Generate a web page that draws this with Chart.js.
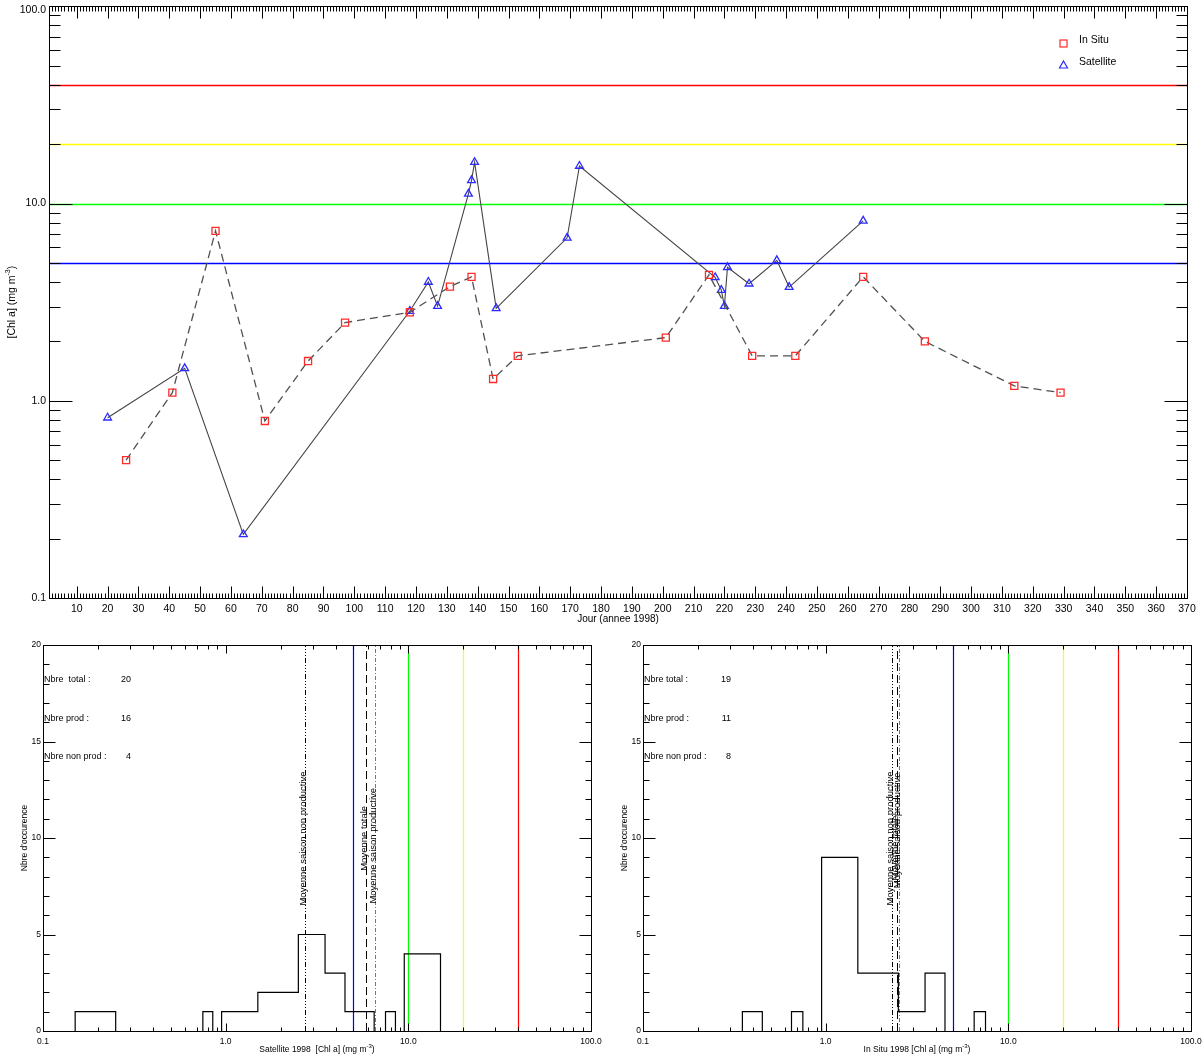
<!DOCTYPE html>
<html>
<head>
<meta charset="utf-8">
<title>Chl a 1998 - In Situ / Satellite</title>
<script src="https://cdn.jsdelivr.net/npm/chart.js@4.4.0/dist/chart.umd.min.js"></script>
<style>
  html, body { margin: 0; padding: 0; background: #fff; }
  #page { position: relative; width: 1203px; height: 1057px; overflow: hidden; background: #fff; }
  canvas { position: absolute; }
</style>
</head>
<body>
<div id="page">
  <canvas id="serie" width="1203" height="630" style="left:0;top:0"></canvas>
  <canvas id="histSat" width="612" height="427" style="left:0;top:630px"></canvas>
  <canvas id="histSitu" width="603" height="427" style="left:600px;top:630px"></canvas>
</div>
<script>
"use strict";

var FONT = '"Liberation Sans", Arial, sans-serif';

// serie temporelle (jour de l'annee, Chl a en mg m-3)
var satDays  = [20, 45, 64, 118, 124, 127, 137, 138, 139, 146, 169, 173, 217, 219, 220, 221, 228, 237, 241, 265];
var satChl   = [0.82, 1.46, 0.21, 2.85, 4.0, 3.02, 11.2, 13.1, 16.2, 2.94, 6.7, 15.5, 4.22, 3.64, 3.02, 4.75, 3.92, 5.15, 3.77, 8.17];
var situDays = [26, 41, 55, 71, 85, 97, 118, 131, 138, 145, 153, 201, 215, 229, 243, 265, 285, 314, 329];
var situChl  = [0.5, 1.1, 7.27, 0.79, 1.59, 2.49, 2.81, 3.79, 4.25, 1.29, 1.69, 2.09, 4.35, 1.69, 1.69, 4.25, 2.0, 1.19, 1.1];

// seuils de concentration
var seuils = [5, 10, 20, 40];
var seuilColors = ['#0000ff', '#00ff00', '#ffff00', '#ff0000'];

// graduations
var dayTicks = [10, 20, 30, 40, 50, 60, 70, 80, 90, 100, 110, 120, 130, 140, 150, 160, 170, 180, 190,
                200, 210, 220, 230, 240, 250, 260, 270, 280, 290, 300, 310, 320, 330, 340, 350, 360, 370];
var chlTicks = [0.1, 1, 10, 100];
var chlTickLabels = ['0.1', '1.0', '10.0', '100.0'];
var countTicks = [0, 5, 10, 15, 20];

// histogrammes : bornes des classes et effectifs
var satBinLo  = [0.15, 0.75, 0.95, 1.5, 2.5, 3.5, 4.5, 7.5, 9.5];
var satBinHi  = [0.25, 0.85, 1.5, 2.5, 3.5, 4.5, 6.5, 8.5, 15];
var satCounts = [1, 1, 1, 2, 5, 3, 1, 1, 4];
var situBinLo  = [0.35, 0.65, 0.95, 1.5, 2.5, 3.5, 6.5];
var situBinHi  = [0.45, 0.75, 1.5, 2.5, 3.5, 4.5, 7.5];
var situCounts = [1, 1, 9, 3, 1, 3, 1];

// moyennes : non productive, totale, productive
var meanLabels = ['Moyenne saison non productive', 'Moyenne totale', 'Moyenne saison productive'];
var satMeans  = [2.72, 5.86, 6.59];
var situMeans = [2.30, 2.46, 2.52];

var statLabelsSat  = ['Nbre  total :', 'Nbre prod :', 'Nbre non prod :'];
var statLabelsSitu = ['Nbre total :', 'Nbre prod :', 'Nbre non prod :'];
var satStats  = [20, 16, 4];
var situStats = [19, 11, 8];

function pairs(xs, ys) {
    return xs.map(function(x, i) { return {x: x, y: ys[i]}; });
}

// contour en escalier, coupe entre les classes non contigues
function histOutline(lo, hi, n) {
    var pts = [];
    for (var i = 0; i < lo.length; i++) {
        var joined = i > 0 && Math.abs(hi[i - 1] - lo[i]) < 1e-9;
        if (!joined) {
            if (i > 0) {
                pts.push({x: hi[i - 1], y: 0});
                pts.push({x: hi[i - 1], y: null});
            }
            pts.push({x: lo[i], y: 0});
        }
        pts.push({x: lo[i], y: n[i]});
        pts.push({x: hi[i], y: n[i]});
    }
    pts.push({x: hi[hi.length - 1], y: 0});
    return pts;
}

function logTicks(min, max) {
    var out = [];
    for (var e = Math.round(Math.log10(min)); e < Math.round(Math.log10(max)); e++) {
        for (var k = 1; k < 10; k++) {
            out.push({v: k * Math.pow(10, e), major: k === 1});
        }
    }
    out.push({v: max, major: true});
    return out;
}

function crisp(p) { return Math.round(p) + 0.5; }

function seg(ctx, x1, y1, x2, y2) {
    ctx.beginPath();
    ctx.moveTo(x1, y1);
    ctx.lineTo(x2, y2);
    ctx.stroke();
}

function txt(ctx, s, x, y, size, align, base) {
    ctx.font = size + 'px ' + FONT;
    ctx.textAlign = align || 'left';
    ctx.textBaseline = base || 'middle';
    ctx.fillText(s, x, y);
}

// texte avec exposant : parts = [[texte, exposant?], ...], centre en x
function supText(ctx, parts, x, y, size) {
    var small = Math.round(size * 0.7);
    var w = 0;
    parts.forEach(function(p) {
        ctx.font = (p[1] ? small : size) + 'px ' + FONT;
        w += ctx.measureText(p[0]).width;
    });
    var cx = x - w / 2;
    ctx.textAlign = 'left';
    ctx.textBaseline = 'middle';
    parts.forEach(function(p) {
        ctx.font = (p[1] ? small : size) + 'px ' + FONT;
        ctx.fillText(p[0], cx, p[1] ? y - size * 0.35 : y);
        cx += ctx.measureText(p[0]).width;
    });
}

var serieAxes = {
    id: 'serieAxes',
    beforeDatasetsDraw: function(chart) {
        var ctx = chart.ctx, a = chart.chartArea, y = chart.scales.y;
        ctx.save();
        ctx.lineWidth = 1.6;
        seuils.forEach(function(s, i) {
            ctx.strokeStyle = seuilColors[i];
            var py = crisp(y.getPixelForValue(s));
            seg(ctx, a.left, py, a.right, py);
        });
        ctx.restore();
    },
    afterDraw: function(chart) {
        var ctx = chart.ctx, a = chart.chartArea, x = chart.scales.x, y = chart.scales.y;
        var L = crisp(a.left), R = crisp(a.right), T = crisp(a.top), B = crisp(a.bottom);
        ctx.save();
        ctx.strokeStyle = '#000';
        ctx.fillStyle = '#000';
        ctx.lineWidth = 1;
        ctx.strokeRect(L, T, R - L, B - T);

        // un trait par jour, trait long tous les 10 jours
        for (var d = Math.ceil(x.min) + 1; d < x.max; d++) {
            var px = crisp(x.getPixelForValue(d));
            var len = d % 10 === 0 ? 12 : 5;
            seg(ctx, px, B, px, B - len);
            seg(ctx, px, T, px, T + len);
        }
        logTicks(0.1, 100).forEach(function(t) {
            var py = crisp(y.getPixelForValue(t.v));
            var len = t.major ? 23 : 11;
            seg(ctx, L, py, L + len, py);
            seg(ctx, R, py, R - len, py);
        });

        dayTicks.forEach(function(d) {
            txt(ctx, String(d), x.getPixelForValue(d), B + 11, 10.5, 'center');
        });
        chlTicks.forEach(function(v, i) {
            txt(ctx, chlTickLabels[i], a.left - 3, Math.max(y.getPixelForValue(v), 10), 10.5, 'right');
        });

        txt(ctx, 'Jour (annee 1998)', (a.left + a.right) / 2, B + 21, 10, 'center');

        ctx.save();
        ctx.translate(12, (a.top + a.bottom) / 2);
        ctx.rotate(-Math.PI / 2);
        supText(ctx, [['[Chl a] (mg m', false], ['-3', true], [')', false]], 0, 0, 10.5);
        ctx.restore();

        // legende
        ctx.lineWidth = 1.2;
        ctx.strokeStyle = '#ff2b2b';
        ctx.strokeRect(1060, 40, 7, 7);
        ctx.strokeStyle = '#2b2bff';
        ctx.beginPath();
        ctx.moveTo(1063.5, 61);
        ctx.lineTo(1067.5, 68);
        ctx.lineTo(1059.5, 68);
        ctx.closePath();
        ctx.stroke();
        ctx.fillStyle = '#000';
        txt(ctx, 'In Situ', 1079, 40, 10.5, 'left');
        txt(ctx, 'Satellite', 1079, 62.5, 10.5, 'left');
        ctx.restore();
    }
};

new Chart(document.getElementById('serie'), {
    type: 'line',
    data: {
        datasets: [
            {
                label: 'In Situ',
                data: pairs(situDays, situChl),
                borderColor: '#505050',
                borderWidth: 1.3,
                borderDash: [8, 5],
                tension: 0,
                pointStyle: 'rect',
                pointRadius: 5,
                pointBorderWidth: 1.3,
                pointBorderColor: '#ff2b2b',
                pointBackgroundColor: 'rgba(0,0,0,0)'
            },
            {
                label: 'Satellite',
                data: pairs(satDays, satChl),
                borderColor: '#444',
                borderWidth: 1.1,
                tension: 0,
                pointStyle: 'triangle',
                pointRadius: 4.5,
                pointBorderWidth: 1.3,
                pointBorderColor: '#2b2bff',
                pointBackgroundColor: 'rgba(0,0,0,0)'
            }
        ]
    },
    options: {
        responsive: false,
        devicePixelRatio: 1,
        animation: false,
        events: [],
        layout: {padding: {left: 49, right: 16, top: 6, bottom: 32}},
        scales: {
            x: {type: 'linear', min: 1, max: 370, display: false},
            y: {type: 'logarithmic', min: 0.1, max: 100, display: false}
        },
        plugins: {legend: {display: false}, tooltip: {enabled: false}}
    },
    plugins: [serieAxes]
});

var meanStyles = [
    {color: '#000', dash: [5, 2, 1, 2, 1, 2, 1, 2]},
    {color: '#000', dash: [8, 4]},
    {color: '#777', dash: [4, 2, 1, 2]}
];

function histPlugin(cfg) {
    return {
        id: 'histAxes',
        beforeDatasetsDraw: function(chart) {
            var ctx = chart.ctx, a = chart.chartArea, x = chart.scales.x;
            ctx.save();
            ctx.lineWidth = 1.2;
            seuils.forEach(function(s, i) {
                ctx.strokeStyle = seuilColors[i];
                var px = crisp(x.getPixelForValue(s));
                seg(ctx, px, a.top, px, a.bottom);
            });
            ctx.lineWidth = 1;
            cfg.means.forEach(function(m, i) {
                ctx.strokeStyle = meanStyles[i].color;
                ctx.setLineDash(meanStyles[i].dash);
                var px = crisp(x.getPixelForValue(m));
                seg(ctx, px, a.bottom, px, a.top);
            });
            ctx.restore();
        },
        afterDraw: function(chart) {
            var ctx = chart.ctx, a = chart.chartArea, x = chart.scales.x, y = chart.scales.y;
            var L = crisp(a.left), R = crisp(a.right), T = crisp(a.top), B = crisp(a.bottom);
            ctx.save();
            ctx.strokeStyle = '#000';
            ctx.fillStyle = '#000';
            ctx.lineWidth = 1;
            ctx.strokeRect(L, T, R - L, B - T);

            logTicks(0.1, 100).forEach(function(t) {
                var px = crisp(x.getPixelForValue(t.v));
                var len = t.major ? 8 : 4;
                seg(ctx, px, B, px, B - len);
                seg(ctx, px, T, px, T + len);
            });
            for (var c = 1; c < 20; c++) {
                var py = crisp(y.getPixelForValue(c));
                var len = c % 5 === 0 ? 12 : 6;
                seg(ctx, L, py, L + len, py);
                seg(ctx, R, py, R - len, py);
            }

            chlTicks.forEach(function(v, i) {
                txt(ctx, chlTickLabels[i], x.getPixelForValue(v), B + 10, 8.5, 'center');
            });
            countTicks.forEach(function(v) {
                txt(ctx, String(v), a.left - 2, y.getPixelForValue(v), 8.5, 'right');
            });

            supText(ctx, [[cfg.title, false], ['-3', true], [')', false]], (a.left + a.right) / 2, B + 18, 8.5);

            ctx.save();
            ctx.translate(25, (a.top + a.bottom) / 2);
            ctx.rotate(-Math.PI / 2);
            txt(ctx, "Nbre d'occurence", 0, 0, 8.5, 'center');
            ctx.restore();

            cfg.statLabels.forEach(function(s, i) {
                var py = y.getPixelForValue(cfg.statRows[i]);
                txt(ctx, s, a.left + 1, py, 9, 'left');
                txt(ctx, String(cfg.stats[i]), a.left + 88, py, 9, 'right');
            });

            meanLabels.forEach(function(s, i) {
                ctx.save();
                ctx.translate(x.getPixelForValue(cfg.means[i]) + 1, y.getPixelForValue(cfg.labelFrom[i]));
                ctx.rotate(-Math.PI / 2);
                txt(ctx, s, 0, 0, 9.5, 'left', 'alphabetic');
                ctx.restore();
            });
            ctx.restore();
        }
    };
}

function histChart(id, lo, hi, n, cfg, rightPad) {
    return new Chart(document.getElementById(id), {
        type: 'line',
        data: {
            datasets: [{
                data: histOutline(lo, hi, n),
                borderColor: '#000',
                borderWidth: 1.2,
                pointRadius: 0,
                tension: 0,
                spanGaps: false
            }]
        },
        options: {
            responsive: false,
            devicePixelRatio: 1,
            animation: false,
            events: [],
            layout: {padding: {left: 43, right: rightPad, top: 15, bottom: 26}},
            scales: {
                x: {type: 'logarithmic', min: 0.1, max: 100, display: false},
                y: {type: 'linear', min: 0, max: 20, display: false}
            },
            plugins: {legend: {display: false}, tooltip: {enabled: false}}
        },
        plugins: [histPlugin(cfg)]
    });
}

histChart('histSat', satBinLo, satBinHi, satCounts, {
    means: satMeans,
    labelFrom: [6.5, 8.3, 6.6],
    stats: satStats,
    statLabels: statLabelsSat,
    statRows: [18.2, 16.2, 14.2],
    title: 'Satellite 1998  [Chl a] (mg m'
}, 21);

histChart('histSitu', situBinLo, situBinHi, situCounts, {
    means: situMeans,
    labelFrom: [6.5, 7.8, 7.4],
    stats: situStats,
    statLabels: statLabelsSitu,
    statRows: [18.2, 16.2, 14.2],
    title: 'In Situ 1998 [Chl a] (mg m'
}, 12);
</script>
</body>
</html>
